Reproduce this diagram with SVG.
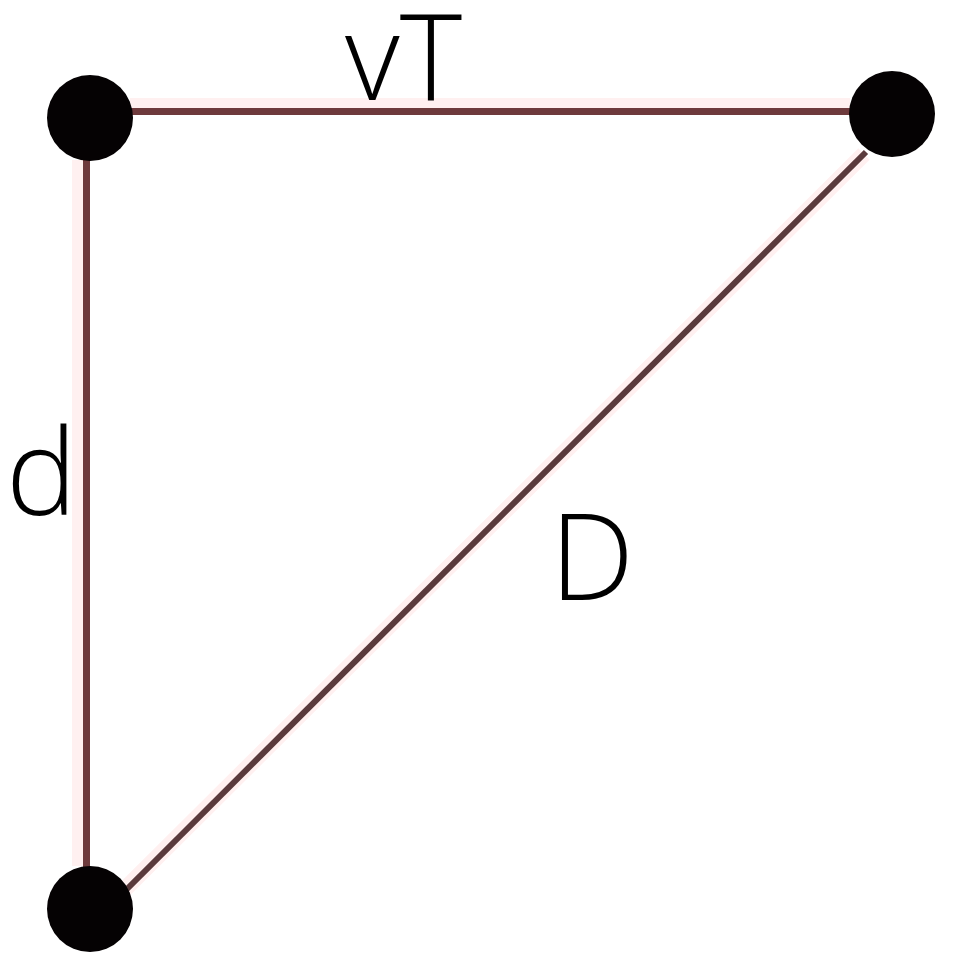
<svg xmlns="http://www.w3.org/2000/svg" width="960" height="978" viewBox="0 0 960 978">
<style>
.halo{stroke:#fff0f0;stroke-width:16;fill:none;stroke-linecap:butt}
.edge{stroke:#6e3a3c;stroke-width:7;fill:none}
.diag{stroke:#5a3a3c;stroke-width:6;fill:none}
.dot{fill:#050203}
.lbl{font-family:"Open Sans","Liberation Sans",Arial,sans-serif;font-weight:300;font-size:119px;fill:#000}
</style>
<rect width="960" height="978" fill="#ffffff"/>
<g id="connectors">
<line class="halo" x1="130" y1="106" x2="850" y2="106"/>
<line class="halo" x1="80" y1="160" x2="80" y2="866"/>
<line class="halo" x1="864" y1="154" x2="124" y2="890" stroke-width="12"/>
<line class="edge" x1="90" y1="111.5" x2="892" y2="111.5"/>
<line class="edge" x1="86.5" y1="118" x2="86.5" y2="909"/>
<line class="diag" x1="866" y1="152" x2="126" y2="890"/>
</g>
<g id="node-top-left"><circle class="dot" cx="90" cy="118" r="43"/></g>
<g id="node-top-right"><circle class="dot" cx="892" cy="114" r="43"/></g>
<g id="node-bottom-left"><circle class="dot" cx="90" cy="909" r="43"/></g>
<g id="labels">
<text class="lbl" x="345" y="100">vT</text>
<text class="lbl" x="6" y="515" font-size="124">d</text>
<text class="lbl" x="550" y="600">D</text>
</g>
</svg>
